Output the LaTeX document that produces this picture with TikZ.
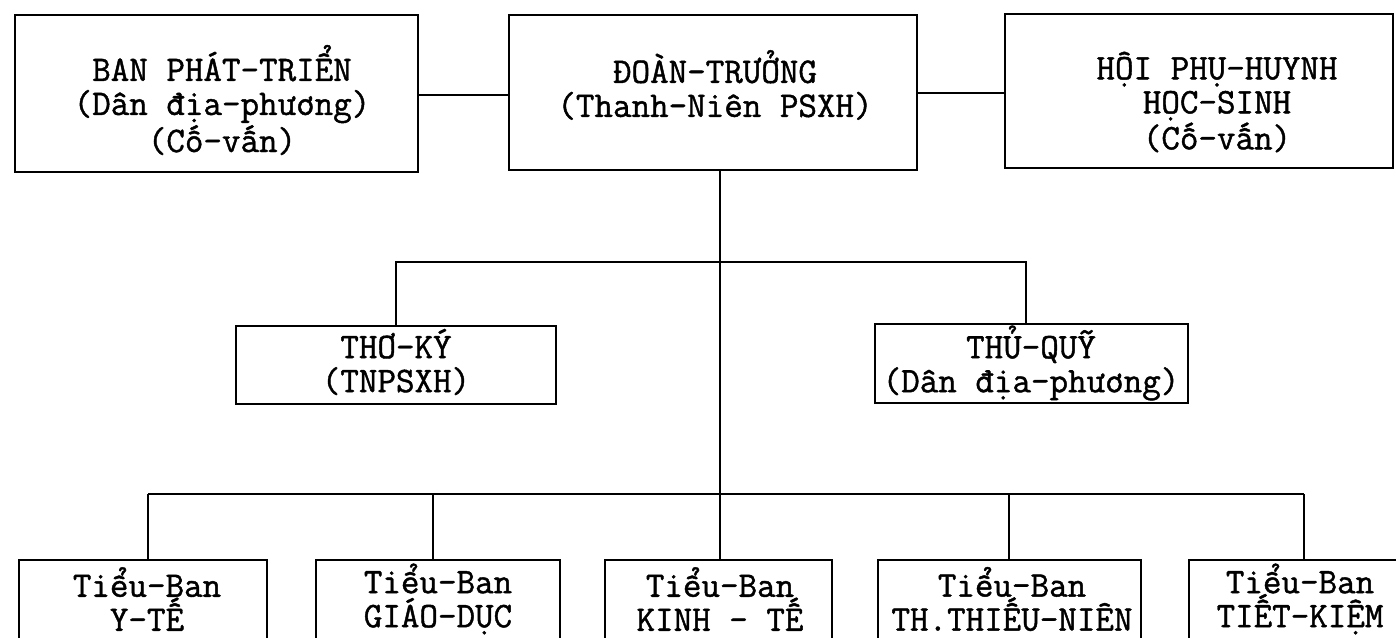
\documentclass[tikz,border=0pt]{standalone}
\usepackage{fontspec}
\newfontfamily\typew[FakeStretch=1.0,AutoFakeBold=1.2]{Latin Modern Mono}
\begin{document}
\begin{tikzpicture}[x=0.5pt,y=-0.5pt,
  box/.style={draw,line width=1.1pt,inner sep=0pt},
  txt/.style={align=center,inner sep=0pt,font=\typew\bfseries\fontsize{18pt}{17pt}\selectfont},
  conn/.style={line width=1.1pt}]
\useasboundingbox (0,0) rectangle (1396,637);
% top row
\node[box,minimum width=201.5pt,minimum height=78.5pt] (b1) at (216.5,93.5) {};
\node[box,minimum width=204pt,minimum height=77.5pt] (b2) at (713,92.5) {};
\node[box,minimum width=194pt,minimum height=77pt] (b3) at (1199,91) {};
\node[txt] (b1t) at (222,100) {BAN PHÁT-TRIỂN\\(Dân địa-phương)\\(Cố-vấn)};
\node[txt] (b2t) at (715,85) {ĐOÀN-TRƯỞNG\\(Thanh-Niên PSXH)};
\node[txt] (b3t) at (1217,102) {HỘI PHỤ-HUYNH\\HỌC-SINH\\(Cố-vấn)};
% middle row
\node[box,minimum width=160pt,minimum height=39pt] (m1) at (396,365) {};
\node[box,minimum width=156.5pt,minimum height=39.5pt] (m2) at (1031.5,363.5) {};
\node[txt] (m1t) at (396,362) {THƠ-KÝ\\(TNPSXH)};
\node[txt] (m2t) at (1031,363) {THỦ-QUỸ\\(Dân địa-phương)};
% bottom row
\node[box,minimum width=124pt,minimum height=45pt] (s1) at (143,605) {};
\node[box,minimum width=122pt,minimum height=45pt] (s2) at (438,605) {};
\node[box,minimum width=113.5pt,minimum height=45pt] (s3) at (718.5,605) {};
\node[box,minimum width=131.5pt,minimum height=45pt] (s4) at (1009.5,605) {};
\node[box,minimum width=115.5pt,minimum height=45pt] (s5) at (1304.5,605) {};
\node[txt] (s1t) at (147,599) {Tiểu-Ban\\Y-TẾ};
\node[txt] (s2t) at (438,599) {Tiểu-Ban\\GIÁO-DỤC};
\node[txt] (s3t) at (720,599) {Tiểu-Ban\\KINH - TẾ};
\node[txt] (s4t) at (1012,599) {Tiểu-Ban\\TH.THIẾU-NIÊN};
\node[txt] (s5t) at (1300,599) {Tiểu-Ban\\TIẾT-KIỆM};
% connectors
\coordinate (ml) at (396,262);
\coordinate (mr) at (1026,262);
\coordinate (bm) at (720,494);
\coordinate (t1) at (148,494);
\coordinate (t2) at (433,494);
\coordinate (t4) at (1009,494);
\coordinate (t5) at (1304,494);
\draw[conn] (b1.east |- 0,95) -- (b2.west |- 0,95);
\draw[conn] (b2.east |- 0,93) -- (b3.west |- 0,93);
\draw[conn] (bm |- b2.south) -- (bm);
\draw[conn] (m1.north -| ml) -- (ml) -- (mr) -- (mr |- m2.north);
\draw[conn] (t1) -- (t5);
\draw[conn] (t1) -- (t1 |- s1.north);
\draw[conn] (t2) -- (t2 |- s2.north);
\draw[conn] (bm) -- (bm |- s3.north);
\draw[conn] (t4) -- (t4 |- s4.north);
\draw[conn] (t5) -- (t5 |- s5.north);
\end{tikzpicture}
\end{document}
